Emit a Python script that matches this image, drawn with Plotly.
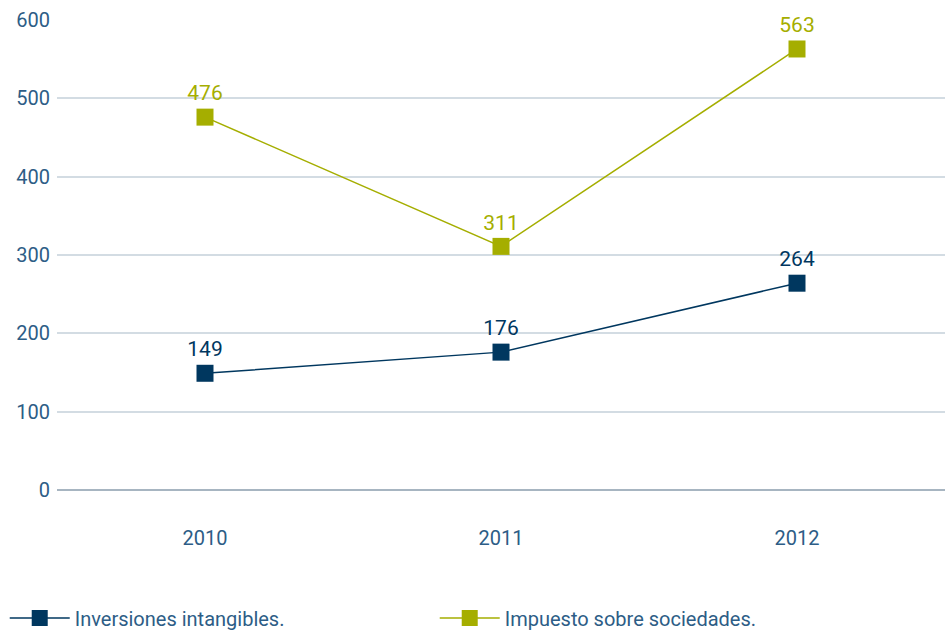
import plotly.graph_objects as go

years = ["2010", "2011", "2012"]
inversiones = [149, 176, 264]
impuesto = [476, 311, 563]

navy = "#00375f"
olive = "#a5ae00"
axis_text = "#2d5d86"

fig = go.Figure()

fig.add_trace(go.Scatter(
    x=years, y=inversiones, name="Inversiones intangibles.",
    mode="lines+markers+text",
    line=dict(color=navy, width=1.5),
    marker=dict(symbol="square", size=17, color=navy),
    text=[str(v) for v in inversiones], textposition="top center",
    textfont=dict(color=navy, size=21, family="Roboto"),
    cliponaxis=False,
))
fig.add_trace(go.Scatter(
    x=years, y=impuesto, name="Impuesto sobre sociedades.",
    mode="lines+markers+text",
    line=dict(color=olive, width=1.5),
    marker=dict(symbol="square", size=17, color=olive),
    text=[str(v) for v in impuesto], textposition="top center",
    textfont=dict(color=olive, size=21, family="Roboto"),
    cliponaxis=False,
))

fig.update_layout(
    width=945, height=630,
    margin=dict(l=57, r=0, t=20, b=140, autoexpand=False),
    plot_bgcolor="white", paper_bgcolor="white",
    font=dict(family="Roboto", color=axis_text, size=20),
    xaxis=dict(
        type="category", range=[-0.5, 2.5],
        showgrid=False, showline=False, zeroline=False,
        ticks="", ticklabelstandoff=34,
        tickfont=dict(size=20, color=axis_text),
    ),
    yaxis=dict(
        range=[0, 600], dtick=100,
        showgrid=True, gridcolor="#d3dce3", gridwidth=1.5,
        zeroline=True, zerolinecolor="#a7b5c1", zerolinewidth=2,
        showline=False, ticks="", ticklabelstandoff=6,
        tickfont=dict(size=20, color=axis_text),
    ),
    showlegend=True,
    legend=dict(
        orientation="h", xref="container", yref="container",
        x=0.005, y=0.019, xanchor="left", yanchor="middle",
        itemwidth=60,
        entrywidth=355, entrywidthmode="pixels",
        font=dict(size=20, color=axis_text),
        bgcolor="rgba(0,0,0,0)",
    ),
)

fig.write_html("out.html")
